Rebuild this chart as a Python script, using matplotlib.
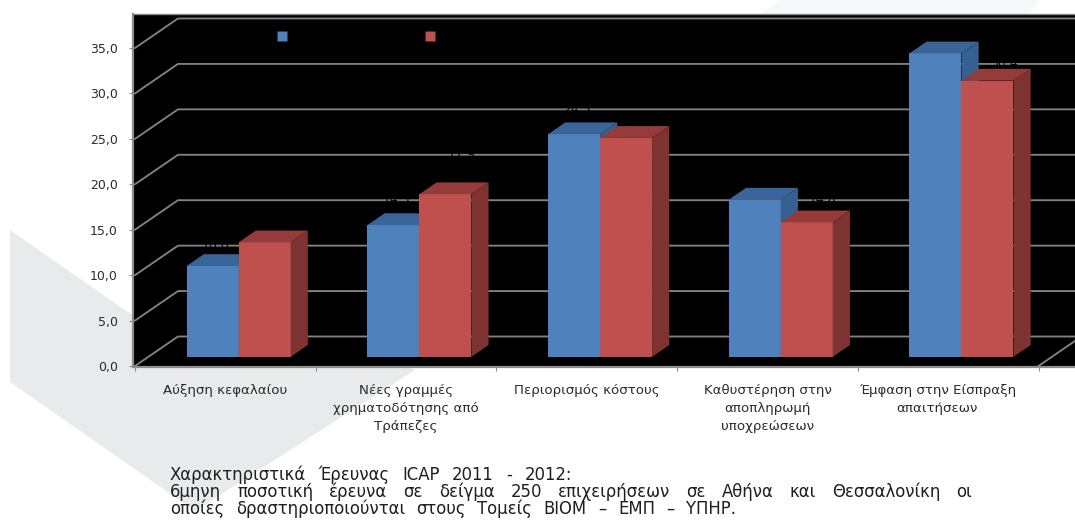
import matplotlib
matplotlib.use("Agg")
import matplotlib.pyplot as plt
from matplotlib.patches import Polygon, Rectangle

categories = ["Αύξηση κεφαλαίου", "Νέες γραμμές\nχρηματοδότησης από\nΤράπεζες",
              "Περιορισμός κόστους", "Καθυστέρηση στην\nαποπληρωμή\nυποχρεώσεων",
              "Έμφαση στην Είσπραξη\nαπαιτήσεων"]
series_a = [10.0, 14.5, 24.5, 17.3, 33.4]
series_b = [12.6, 17.9, 24.1, 14.8, 30.4]
y_ticks = [0, 5, 10, 15, 20, 25, 30, 35]
note_head = "Χαρακτηριστικά Έρευνας ICAP 2011 - 2012:"
note_just = "6μηνη ποσοτική έρευνα σε δείγμα 250 επιχειρήσεων σε Αθήνα και Θεσσαλονίκη οι"
note_tail = "οποίες δραστηριοποιούνται στους Τομείς ΒΙΟΜ – ΕΜΠ – ΥΠΗΡ."

W, H = 1075, 525
plt.rcParams["font.family"] = "DejaVu Sans"
fig = plt.figure(figsize=(W / 100, H / 100), dpi=100, facecolor="white")

# watermark behind everything (figure pixel space)
bg = fig.add_axes([0, 0, 1, 1], zorder=0)
bg.set_xlim(0, W); bg.set_ylim(H, 0); bg.axis("off")
bg.add_patch(Polygon([(10, 230), (10, 382), (195, 511), (415, 370), (300, 330), (132, 315)],
                     closed=True, fc="#e9eaec", ec="none"))
bg.add_patch(Polygon([(760, 14), (780, 0), (1040, 0), (1030, 14)], closed=True, fc="#f7f8f9", ec="none"))

# panel axes: pixel box -> data scales
L, R, T, B = 133, 1075, 14, 367
ax = fig.add_axes([L / W, 1 - B / H, (R - L) / W, (B - T) / H], zorder=1, facecolor="black")
px_x, px_y = 180.7, 9.086
x0 = -0.5 - (135 - L) / px_x
ax.set_xlim(x0, x0 + (R - L) / px_x)
ax.set_ylim(-(B - 366) / px_y, (366 - T) / px_y)

DX, DY = 43 / px_x, 29.5 / px_y
GRID = "#828282"
for v in y_ticks:
    ax.plot([-0.5, -0.5 + DX, 6], [v, v + DY, v + DY], color=GRID, lw=1.35, zorder=1)
ax.plot([4.5, 4.5 + DX], [0, DY], color=GRID, lw=1.35, zorder=1)

D0, D1 = 0.31, 0.71
BW = 52 / px_x
FACES = [("#4f81bd", "#3a659a", "#35608f"), ("#c0504d", "#953b39", "#7d3331")]
label_lift = [[2.3, 2.2], [2.8, 4.4], [2.7, 2.2], [2.2, 2.5], [2.2, 1.9]]
label_shift = [0.015, 0.09]


def bar(left, value, faces):
    fx, fy = left + D0 * DX, D0 * DY
    bx, by = D1 * DX - D0 * DX, D1 * DY - D0 * DY
    front, top, side = faces
    ax.add_patch(Rectangle((fx, fy), BW, value, fc=front, ec="none", zorder=3))
    ax.add_patch(Polygon([(fx, fy + value), (fx + BW, fy + value), (fx + BW + bx, fy + value + by),
                          (fx + bx, fy + value + by)], closed=True, fc=top, ec="none", zorder=3))
    ax.add_patch(Polygon([(fx + BW, fy), (fx + BW + bx, fy + by), (fx + BW + bx, fy + value + by),
                          (fx + BW, fy + value)], closed=True, fc=side, ec="none", zorder=3))
    return fx + BW / 2, fy + value


for i, (a, b) in enumerate(zip(series_a, series_b)):
    for j, (val, left) in enumerate([(a, i - BW), (b, i)]):
        cx, ty = bar(left, val, FACES[j])
        ax.text(cx + label_shift[j], ty + label_lift[i][j], f"{val:.1f}".replace(".", ","),
                color="black", fontsize=9, ha="center", va="center", zorder=2)

# legend squares (their captions are black on black in the source and unreadable)
for px, col in [(282, FACES[0][0]), (430, FACES[1][0])]:
    ax.plot([(px - L) / (R - L)], [(B - 36) / (B - T)], marker="s", ms=7.2, color=col, mec="none",
            transform=ax.transAxes, clip_on=False, zorder=4)

# axes
for s in ["top", "right"]:
    ax.spines[s].set_color("#8c8c8c"); ax.spines[s].set_linewidth(1.0)
ax.spines["right"].set_visible(False)
for s in ["left", "bottom"]:
    ax.spines[s].set_color("#8c8c8c"); ax.spines[s].set_linewidth(1.6)

ax.set_yticks(y_ticks)
ax.set_yticklabels([f"{v:.1f}".replace(".", ",") for v in y_ticks], fontsize=9, color="#2b2b2b")
ax.tick_params(axis="y", length=3, color="#8c8c8c", pad=8)
ax.set_xticks([k - 0.5 for k in range(6)])
ax.set_xticklabels([])
ax.tick_params(axis="x", which="major", length=3, color="#8c8c8c")
ax.set_xticks([0, 1, 2, 3, 3.94], minor=True)
ax.set_xticklabels(categories, minor=True, fontsize=9.6, color="#2b2b2b", linespacing=1.5)
ax.tick_params(axis="x", which="minor", length=0, pad=12)

# note text: each line's words spread between its margins
TXT = "#1f1f1f"
FS = 11.9
fig.canvas.draw()
rend = fig.canvas.get_renderer()
for line, ypos, right in [(note_head, 473, 572), (note_just, 490, 972), (note_tail, 507, 736)]:
    words = line.split(" ")
    arts = [bg.text(0, ypos, w, fontsize=FS, color=TXT, va="center_baseline", ha="left") for w in words]
    widths = [t.get_window_extent(rend).width for t in arts]
    gap = (right - 170 - sum(widths)) / (len(words) - 1)
    x = 170.0
    for t, w in zip(arts, widths):
        t.set_x(x)
        x += w + gap

fig.savefig("out.png", dpi=100)
